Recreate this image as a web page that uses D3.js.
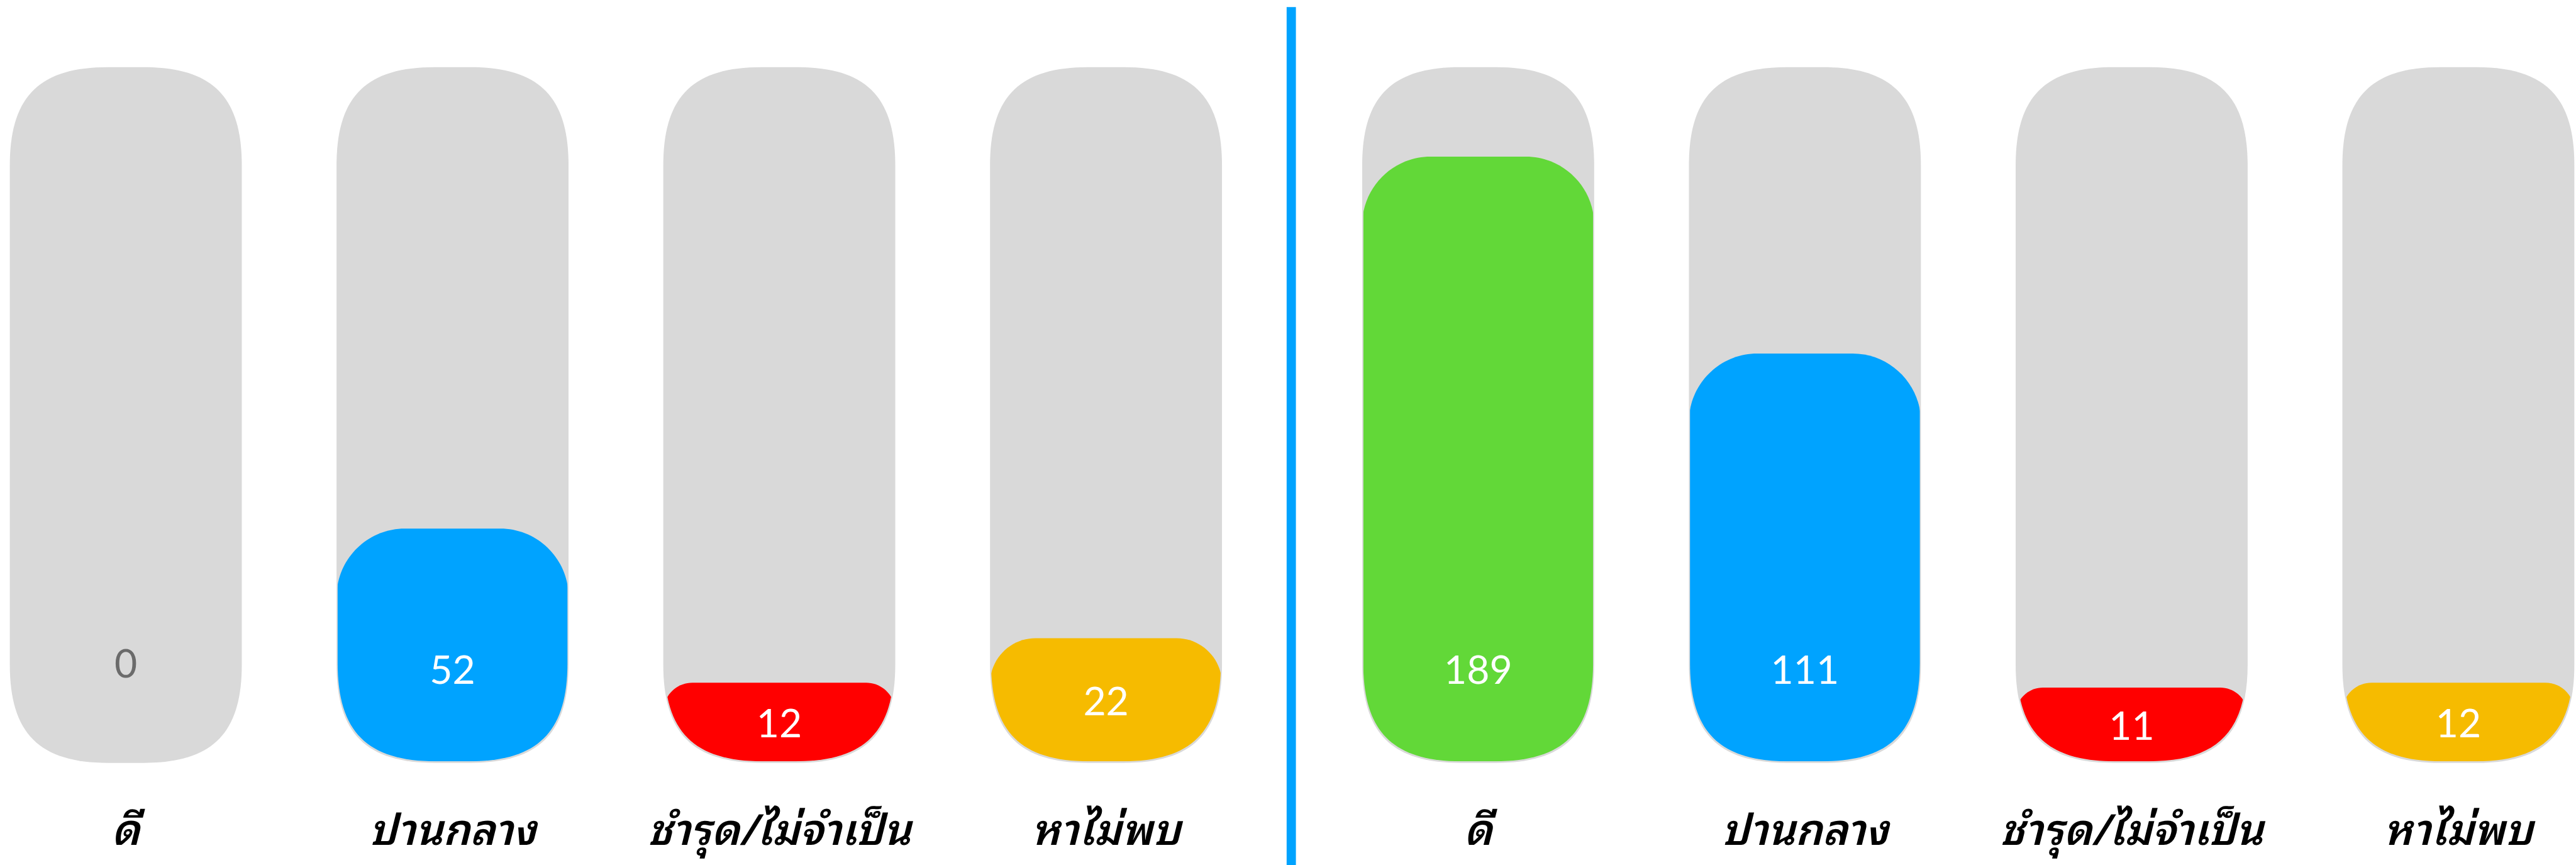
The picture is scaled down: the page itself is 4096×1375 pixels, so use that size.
<!DOCTYPE html>
<html>
<head>
<meta charset="utf-8">
<script src="https://cdn.jsdelivr.net/npm/d3@7"></script>
<style>
  html, body { margin:0; padding:0; background:#fff; overflow:hidden; }
  svg { display:block; }
</style>
</head>
<body>
<svg id="chart"></svg>
<script>
// data
const categories = ["ดี", "ปานกลาง", "ชำรุด/ไม่จำเป็น", "หาไม่พบ"];
const leftValues = [0, 52, 12, 22];
const rightValues = [189, 111, 11, 12];
const barColors = ["#62d838", "#00a3ff", "#ff0000", "#f6bb00"];

// reference is 4722x1585, drawn into 4096x1375
const W = 4722, H = 1585;
const svg = d3.select("#chart")
  .attr("width", 4096)
  .attr("height", 1375)
  .attr("viewBox", `0 0 ${W} ${H}`);

const trackTop = 123;
const trackBottom = 1398;
const barBottom = 1395;
const trackR = 180;

// value -> y of bar top
const y = d3.scalePow()
  .exponent(0.74)
  .domain([0, 189])
  .range([barBottom, barBottom - 1108]);

// path with separate top / bottom corner radii, a = control point offset
function roundedPath(x, y0, w, h, rt, rb, a) {
  return `M${x},${y0 + rt}` +
    `C${x},${y0 + rt * a} ${x + rt * a},${y0} ${x + rt},${y0}` +
    `H${x + w - rt}` +
    `C${x + w - rt * a},${y0} ${x + w},${y0 + rt * a} ${x + w},${y0 + rt}` +
    `V${y0 + h - rb}` +
    `C${x + w},${y0 + h - rb * a} ${x + w - rb * a},${y0 + h} ${x + w - rb},${y0 + h}` +
    `H${x + rb}` +
    `C${x + rb * a},${y0 + h} ${x},${y0 + h - rb * a} ${x},${y0 + h - rb}Z`;
}

const panels = [
  { id: "l", values: leftValues, range: [18, 2240] },
  { id: "r", values: rightValues, range: [2497, 4719] }
];

const defs = svg.append("defs");

panels.forEach(p => {
  const x = d3.scaleBand()
    .domain(categories)
    .range(p.range)
    .paddingInner(0.29)
    .paddingOuter(0);

  const data = categories.map((c, i) => ({ cat: c, value: p.values[i], color: barColors[i], i }));

  const g = svg.append("g");

  // clip shapes (track shape, slightly inset)
  data.forEach(d => {
    defs.append("clipPath")
      .attr("id", `clip-${p.id}-${d.i}`)
      .append("path")
      .attr("d", roundedPath(x(d.cat) + 2, trackTop, x.bandwidth() - 4, barBottom - trackTop, trackR, trackR, 0.3));
  });

  // gray tracks
  g.selectAll(".track")
    .data(data)
    .join("path")
    .attr("class", "track")
    .attr("fill", "#d9d9d9")
    .attr("d", d => roundedPath(x(d.cat), trackTop, x.bandwidth(), trackBottom - trackTop, trackR, trackR, 0.3));

  // value bars
  g.selectAll(".bar")
    .data(data.filter(d => d.value > 0))
    .join("path")
    .attr("class", "bar")
    .attr("fill", d => d.color)
    .attr("clip-path", d => `url(#clip-${p.id}-${d.i})`)
    .attr("d", d => {
      const top = y(d.value);
      const h = barBottom - top;
      const r = Math.min(125, h * 0.37);
      return roundedPath(x(d.cat), top, x.bandwidth(), h + 10, r, 0, 0.45);
    });

  // value labels
  g.selectAll(".val")
    .data(data)
    .join("text")
    .attr("class", "val")
    .attr("x", d => x(d.cat) + x.bandwidth() / 2)
    .attr("y", d => {
      if (d.value === 0) return barBottom - 182;
      const top = y(d.value);
      return Math.max((top + barBottom) / 2, barBottom - 170);
    })
    .attr("text-anchor", "middle")
    .attr("dominant-baseline", "central")
    .attr("font-family", "Lato, 'Open Sans', sans-serif")
    .attr("font-weight", 400)
    .attr("font-size", 72)
    .attr("fill", d => d.value === 0 ? "#6b6b6b" : "#fff")
    .text(d => d.value);

  // category labels
  g.selectAll(".cat")
    .data(data)
    .join("text")
    .attr("class", "cat")
    .attr("x", d => x(d.cat) + x.bandwidth() / 2)
    .attr("y", 1548)
    .attr("text-anchor", "middle")
    .attr("font-family", "Thonburi, 'Noto Sans Thai Looped', Loma, Garuda, 'Noto Sans Thai', sans-serif")
    .attr("font-style", "italic")
    .attr("font-weight", 600)
    .attr("font-size", 78)
    .attr("fill", "#000")
    .text(d => d.cat);
});

// divider
svg.append("line")
  .attr("x1", 2367).attr("x2", 2367)
  .attr("y1", 13).attr("y2", H)
  .attr("stroke", "#00a3ff")
  .attr("stroke-width", 17);
</script>
</body>
</html>
